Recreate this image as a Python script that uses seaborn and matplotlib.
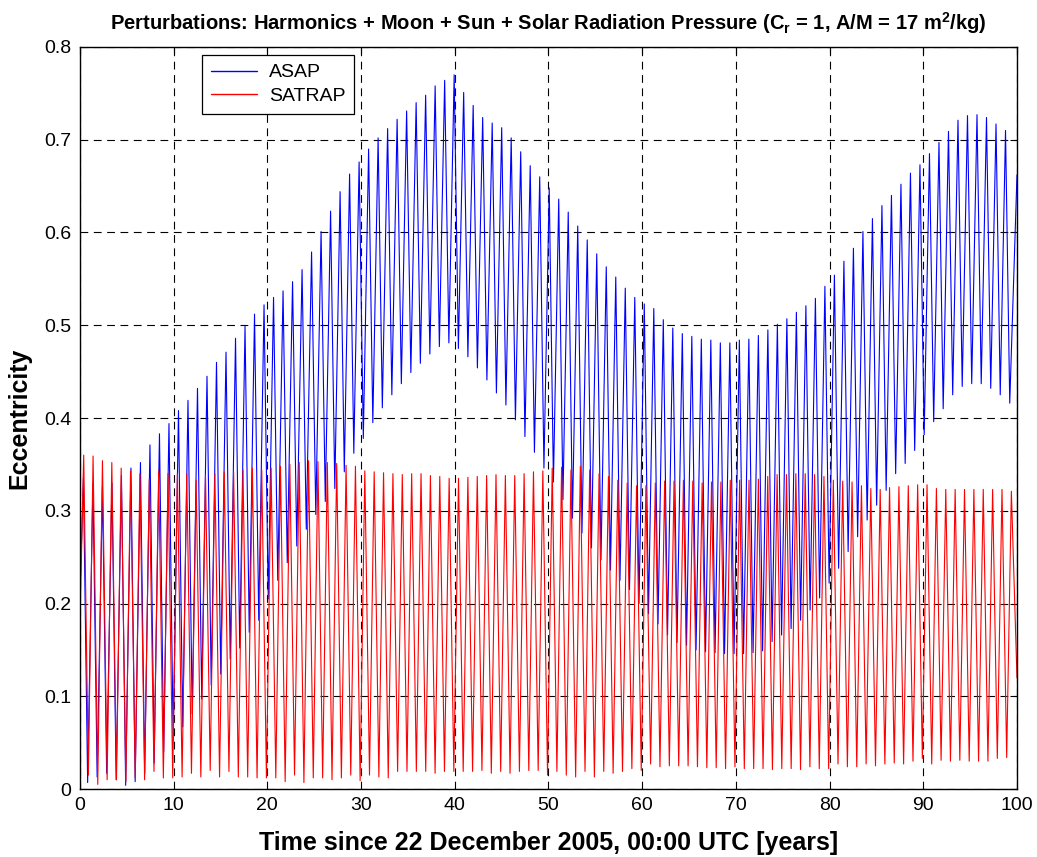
import numpy as np
import pandas as pd
import matplotlib
matplotlib.use("Agg")
import matplotlib.pyplot as plt
import seaborn as sns
from matplotlib.ticker import FuncFormatter

# ---- orbital element histories: per-cycle extrema of eccentricity ----
# ASAP: one oscillation every ~1.0145 yr, first maximum at 0.37 yr
asap_period = 1.0145
asap_first_peak = 0.37
asap_trough_lag = 0.45
asap_start = 0.21
asap_end = 0.662
asap_peaks = [
    0.335, 0.330, 0.326, 0.330, 0.338, 0.346, 0.352, 0.371, 0.383, 0.394,
    0.408, 0.419, 0.432, 0.445, 0.460, 0.471, 0.486, 0.499, 0.512, 0.522,
    0.530, 0.537, 0.547, 0.560, 0.579, 0.601, 0.623, 0.644, 0.663, 0.676,
    0.690, 0.702, 0.712, 0.722, 0.731, 0.740, 0.748, 0.758, 0.764, 0.770,
    0.751, 0.737, 0.724, 0.718, 0.713, 0.702, 0.687, 0.672, 0.660, 0.648,
    0.636, 0.622, 0.607, 0.592, 0.577, 0.563, 0.552, 0.540, 0.530, 0.523,
    0.518, 0.506, 0.497, 0.491, 0.488, 0.485, 0.484, 0.481, 0.481, 0.484,
    0.485, 0.489, 0.495, 0.501, 0.507, 0.514, 0.521, 0.529, 0.542, 0.554,
    0.569, 0.583, 0.601, 0.615, 0.629, 0.640, 0.652, 0.664, 0.673, 0.685,
    0.697, 0.709, 0.721, 0.726, 0.727, 0.724, 0.717, 0.710,
]
asap_troughs = [
    0.007, 0.013, 0.017, 0.010, 0.004, 0.008, 0.017, 0.028, 0.040, 0.052,
    0.067, 0.081, 0.097, 0.112, 0.124, 0.140, 0.152, 0.169, 0.182, 0.205,
    0.225, 0.244, 0.262, 0.280, 0.296, 0.310, 0.324, 0.342, 0.362, 0.378,
    0.395, 0.411, 0.425, 0.437, 0.449, 0.459, 0.469, 0.477, 0.481, 0.475,
    0.466, 0.454, 0.441, 0.427, 0.414, 0.398, 0.380, 0.363, 0.346, 0.331,
    0.312, 0.292, 0.276, 0.260, 0.247, 0.236, 0.225, 0.215, 0.200, 0.189,
    0.178, 0.166, 0.158, 0.155, 0.150, 0.148, 0.147, 0.146, 0.146, 0.146,
    0.147, 0.149, 0.159, 0.166, 0.173, 0.182, 0.193, 0.206, 0.222, 0.238,
    0.256, 0.272, 0.290, 0.306, 0.322, 0.340, 0.351, 0.365, 0.382, 0.396,
    0.410, 0.425, 0.434, 0.437, 0.437, 0.432, 0.425, 0.416,
]

# SATRAP: one oscillation per year, maxima at k + 0.4 yr
satrap_period = 1.0
satrap_first_peak = 0.4
satrap_trough_lag = 0.5
satrap_start = 0.18
satrap_end = 0.12
satrap_peaks = [
    0.360, 0.359, 0.354, 0.352, 0.346, 0.343, 0.340, 0.334, 0.343, 0.340,
    0.340, 0.340, 0.333, 0.338, 0.340, 0.342, 0.342, 0.344, 0.346, 0.344,
    0.346, 0.348, 0.350, 0.352, 0.354, 0.353, 0.352, 0.351, 0.349, 0.348,
    0.343, 0.342, 0.341, 0.340, 0.339, 0.340, 0.340, 0.338, 0.337, 0.335,
    0.335, 0.336, 0.337, 0.338, 0.339, 0.338, 0.338, 0.340, 0.342, 0.343,
    0.346, 0.347, 0.344, 0.348, 0.344, 0.340, 0.337, 0.333, 0.330, 0.327,
    0.327, 0.330, 0.332, 0.332, 0.333, 0.332, 0.330, 0.331, 0.331, 0.333,
    0.333, 0.333, 0.334, 0.337, 0.339, 0.339, 0.340, 0.340, 0.339, 0.337,
    0.333, 0.332, 0.331, 0.327, 0.324, 0.323, 0.325, 0.326, 0.327, 0.328,
    0.328, 0.324, 0.323, 0.323, 0.323, 0.323, 0.323, 0.323, 0.323, 0.321,
]
satrap_troughs = [
    0.015, 0.005, 0.010, 0.010, 0.008, 0.012, 0.010, 0.019, 0.012, 0.012,
    0.013, 0.017, 0.013, 0.020, 0.013, 0.019, 0.013, 0.013, 0.012, 0.012,
    0.012, 0.008, 0.015, 0.007, 0.012, 0.012, 0.010, 0.012, 0.015, 0.009,
    0.015, 0.013, 0.012, 0.019, 0.019, 0.019, 0.019, 0.017, 0.019, 0.019,
    0.019, 0.019, 0.020, 0.017, 0.019, 0.017, 0.019, 0.020, 0.020, 0.015,
    0.019, 0.015, 0.013, 0.019, 0.013, 0.019, 0.017, 0.019, 0.022, 0.020,
    0.027, 0.024, 0.025, 0.025, 0.025, 0.024, 0.023, 0.023, 0.022, 0.024,
    0.022, 0.022, 0.022, 0.021, 0.022, 0.022, 0.021, 0.024, 0.022, 0.022,
    0.027, 0.024, 0.024, 0.027, 0.025, 0.027, 0.028, 0.027, 0.030, 0.033,
    0.027, 0.031, 0.030, 0.031, 0.030, 0.030, 0.030, 0.033, 0.034,
]

t_end = 100.0
x_ticks = list(range(0, 101, 10))
y_ticks = [0, 0.1, 0.2, 0.3, 0.4, 0.5, 0.6, 0.7, 0.8]


def history(name, start, end, peaks, troughs, period, first_peak, lag):
    """Assemble a time series from the extrema of each cycle."""
    t, e = [0.0], [start]
    for k, p in enumerate(peaks):
        tp = first_peak + k * period
        t.append(tp)
        e.append(p)
        if k < len(troughs):
            t.append(tp + lag)
            e.append(troughs[k])
    t.append(t_end)
    e.append(end)
    return pd.DataFrame({"time": t, "ecc": e, "model": name})


df = pd.concat([
    history("ASAP", asap_start, asap_end, asap_peaks, asap_troughs,
            asap_period, asap_first_peak, asap_trough_lag),
    history("SATRAP", satrap_start, satrap_end, satrap_peaks, satrap_troughs,
            satrap_period, satrap_first_peak, satrap_trough_lag),
], ignore_index=True)

sns.set_theme(style="white")
plt.rcParams["font.family"] = ["Liberation Sans", "DejaVu Sans"]
plt.rcParams["mathtext.fontset"] = "custom"
plt.rcParams["mathtext.bf"] = "Liberation Sans:bold"
plt.rcParams["mathtext.rm"] = "Liberation Sans"
for key in ("text.color", "axes.labelcolor", "xtick.color", "ytick.color"):
    plt.rcParams[key] = "black"

fig = plt.figure(figsize=(10.37, 8.57), dpi=100)
ax = fig.add_axes([0.0771, 0.0793, 0.9036, 0.8659])

sns.lineplot(data=df, x="time", y="ecc", hue="model",
             hue_order=["ASAP", "SATRAP"],
             palette={"ASAP": "#0000ff", "SATRAP": "#ff0000"},
             estimator=None, sort=False, linewidth=0.8, ax=ax)

ax.set_xlim(0, 100)
ax.set_ylim(0, 0.8)
ax.set_xticks(x_ticks)
ax.set_yticks(y_ticks)
ax.yaxis.set_major_formatter(FuncFormatter(lambda v, _: f"{v:g}"))
ax.tick_params(direction="in", length=5, width=0.8, labelsize=14,
               top=True, right=True, colors="black", pad=6)
for s in ax.spines.values():
    s.set_color("black")
    s.set_linewidth(1.0)
ax.grid(True, color="black", linestyle=(0, (7, 5)), linewidth=0.8)

ax.set_title(r"Perturbations: Harmonics + Moon + Sun + Solar Radiation Pressure "
             r"(C$_{\mathbf{r}}$ = 1, A/M = 17 m$^{\mathbf{2}}$/kg)",
             fontsize=14.5, fontweight="bold", pad=12)
ax.set_xlabel("Time since 22 December 2005, 00:00 UTC [years]",
              fontsize=18, fontweight="bold", labelpad=12)
ax.set_ylabel("Eccentricity", fontsize=18, fontweight="bold", labelpad=9)

leg = ax.legend(loc="upper left", bbox_to_anchor=(0.130, 0.989),
                borderaxespad=0, fontsize=14, frameon=True, fancybox=False,
                handlelength=2.4, handletextpad=0.6, borderpad=0.45,
                labelspacing=0.3, edgecolor="black", framealpha=1)
leg.get_frame().set_linewidth(0.9)
for line in leg.get_lines():
    line.set_linewidth(1.0)

fig.savefig("out.png", dpi=100, facecolor="white")
